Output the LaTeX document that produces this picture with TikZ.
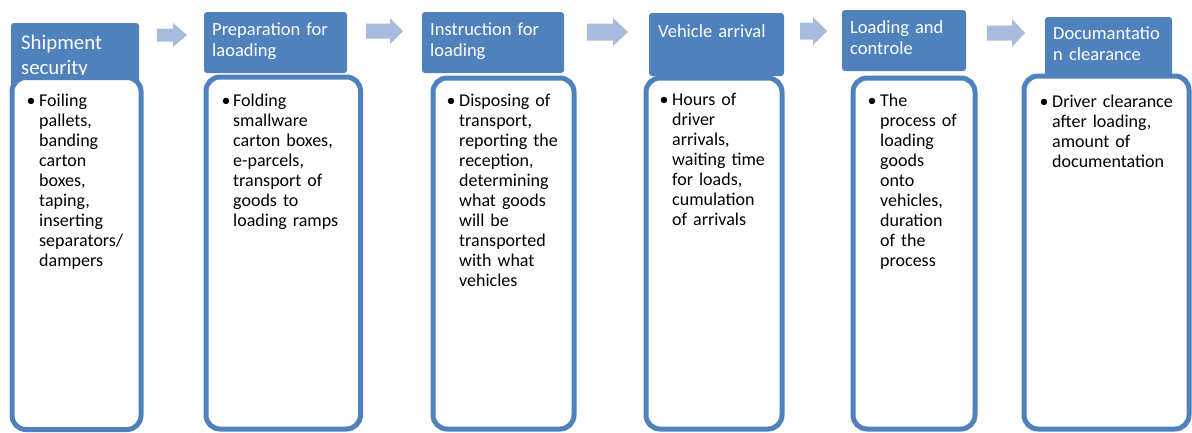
\documentclass[tikz,border=0pt]{standalone}
\usepackage{fontspec}
\setmainfont{Carlito}
\definecolor{hdr}{HTML}{4F81BD}
\definecolor{arr}{HTML}{A7BCDC}
\newcommand{\blkarrow}[6]{% tail, base, tip, cy, shaft half, head half
  \fill[blockarrow] (#1,#4-#5) -- (#2,#4-#5) -- (#2,#4-#6) -- (#3,#4) -- (#2,#4+#6) -- (#2,#4+#5) -- (#1,#4+#5) -- cycle;}
\begin{document}
\begin{tikzpicture}[x=1pt,y=-1pt,
  header/.style={fill=hdr, draw=none, rounded corners=3pt, anchor=north west, inner sep=0, outer sep=0},
  content/.style={fill=white, draw=hdr, line width=5pt, rounded corners=14pt, anchor=north west, inner sep=0, outer sep=0},
  htext/.style={anchor=base west, inner sep=0, text=white, font=\fontsize{18.5}{21.5}\selectfont, text width=170pt, align=left},
  btext/.style={anchor=base west, inner sep=0, font=\fontsize{18}{20}\selectfont, text width=170pt, align=left},
  bul/.style={anchor=base, inner sep=0, font=\fontsize{18}{20}\selectfont},
  blockarrow/.style={fill=arr, draw=none}]
\useasboundingbox (0,0) rectangle (1192,432);
% headers
\node[header, minimum width=128pt, minimum height=80pt] (h1) at (11,23) {};
\node[header, minimum width=143pt, minimum height=61pt] (h2) at (204,12) {};
\node[header, minimum width=142pt, minimum height=61pt] (h3) at (422,12) {};
\node[header, minimum width=135pt, minimum height=63pt] (h4) at (649,13) {};
\node[header, minimum width=124pt, minimum height=61pt] (h5) at (842,10) {};
\node[header, minimum width=127pt, minimum height=80pt] (h6) at (1045,17) {};
% header texts
\node[htext, font=\fontsize{20.8}{25}\selectfont] (t1) at (21,49) {Shipment\\security};
\node[htext] (t2) at (212,35) {Preparation for\\laoading};
\node[htext] (t3) at (430,35) {Instruction for\\loading};
\node[htext] (t4) at (658,37) {Vehicle arrival};
\node[htext] (t5) at (850,33) {Loading and\\controle};
\node[htext] (t6) at (1053,39) {Documantatio\\n clearance};
% content boxes
\node[content, minimum width=129pt, minimum height=352pt] (c1) at (12,77.5) {};
\node[content, minimum width=154.5pt, minimum height=352pt] (c2) at (206,77) {};
\node[content, minimum width=141pt, minimum height=351pt] (c3) at (433,78) {};
\node[content, minimum width=136pt, minimum height=351pt] (c4) at (646,78) {};
\node[content, minimum width=122pt, minimum height=351pt] (c5) at (853,78) {};
\node[content, minimum width=165pt, minimum height=353pt] (c6) at (1024,76) {};
% bullets
\node[bul] (b1) at (31,106) {\textbullet};
\node[bul] (b2) at (226,106) {\textbullet};
\node[bul] (b3) at (451,106) {\textbullet};
\node[bul] (b4) at (664,105) {\textbullet};
\node[bul] (b5) at (872,106) {\textbullet};
\node[bul] (b6) at (1044,107) {\textbullet};
% content texts
\node[btext] (x1) at (39,106) {Foiling\\pallets,\\banding\\carton\\boxes,\\taping,\\inserting\\separators/\\dampers};
\node[btext] (x2) at (233,106) {Folding\\smallware\\carton boxes,\\e-parcels,\\transport of\\goods to\\loading ramps};
\node[btext] (x3) at (459,106) {Disposing of\\transport,\\reporting the\\reception,\\determining\\what goods\\will be\\transported\\with what\\vehicles};
\node[btext] (x4) at (672,105) {Hours of\\driver\\arrivals,\\waiting time\\for loads,\\cumulation\\of arrivals};
\node[btext] (x5) at (880,106) {The\\process of\\loading\\goods\\onto\\vehicles,\\duration\\of the\\process};
\node[btext] (x6) at (1052,107) {Driver clearance\\after loading,\\amount of\\documentation};
% block arrows
\blkarrow{157}{173}{187}{35}{6.5}{12}
\blkarrow{366}{390}{403}{31}{7.5}{13}
\blkarrow{587}{613}{628}{32}{8.5}{14}
\blkarrow{800}{813}{827}{31}{8.5}{14}
\blkarrow{987}{1012}{1025}{33}{7.5}{14}
\end{tikzpicture}
\end{document}
